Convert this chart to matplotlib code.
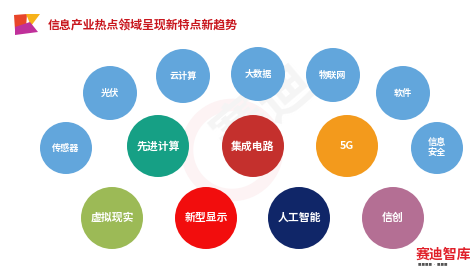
import matplotlib
matplotlib.use("Agg")
import matplotlib.pyplot as plt
from matplotlib.patches import Circle, Polygon

plt.rcParams['font.family'] = ['Noto Sans CJK SC', 'DejaVu Sans']

title = "信息产业热点领域呈现新特点新趋势"

# bubble labels, centers (pixel coords of the slide) and radii
labels = ["光伏", "云计算", "大数据", "物联网", "软件",
          "传感器", "先进计算", "集成电路", "5G", "信息\n安全",
          "虚拟现实", "新型显示", "人工智能", "信创"]
bubble_x = [110, 183, 258, 333, 403,
            66, 158, 253, 347, 437,
            112, 206, 299, 393]
bubble_y = [93, 76, 74, 75, 93,
            148, 146, 146, 146, 148,
            218, 218, 218, 218]
bubble_r = [27, 27, 27, 27, 27,
            26, 31, 31, 31, 26,
            31, 31, 31, 31]

blue = "#62a6dc"
colors = [blue, blue, blue, blue, blue,
          blue, "#16a085", "#c4302d", "#f39a1c", blue,
          "#9cba56", "#f20d0d", "#102668", "#b46f94"]

fig = plt.figure(figsize=(4.72, 2.73), dpi=100)
ax = fig.add_axes([0, 0, 1, 1])
ax.set_xlim(0, 472)
ax.set_ylim(273, 0)
ax.axis("off")

# faint watermark
ax.add_patch(Circle((232, 150), 45, fill=False, lw=9, ec="#fdf3f4", zorder=0))
ax.text(265, 110, "赛迪", fontsize=40, color="#f5f5f5", rotation=40,
        ha="center", va="center", fontweight="bold", zorder=0)

# top-left logo
ax.add_patch(Polygon([[14, 15], [27, 14], [26, 28], [15, 30]], closed=True, color="#e8452a", lw=0))
ax.add_patch(Polygon([[26, 14], [40, 14], [31, 26]], closed=True, color="#f7b21a", lw=0))
ax.add_patch(Polygon([[15, 27], [30, 22], [38, 32], [15, 35]], closed=True, color="#c0309a", lw=0))

ax.text(48, 26, title, fontsize=8.6, color="#c8161d", fontweight="bold",
        ha="left", va="center")

for lab, x, y, r, c in zip(labels, bubble_x, bubble_y, bubble_r, colors):
    ax.add_patch(Circle((x, y), r, color=c, lw=0, zorder=2))
    fs = 7.8 if r > 29 else 6.6
    ax.text(x, y, lab, fontsize=fs, color="white", fontweight="bold",
            ha="center", va="center", linespacing=1.1, zorder=3)

# bottom-right brand
ax.text(416, 255, "赛迪智库", fontsize=10, color="#e0202a", fontweight="bold",
        ha="left", va="center")
ax.text(418, 265, "■■■■ · ■■■", fontsize=2.5, color="#555555", ha="left", va="center")

fig.savefig("out.png", dpi=100)
plt.close(fig)
